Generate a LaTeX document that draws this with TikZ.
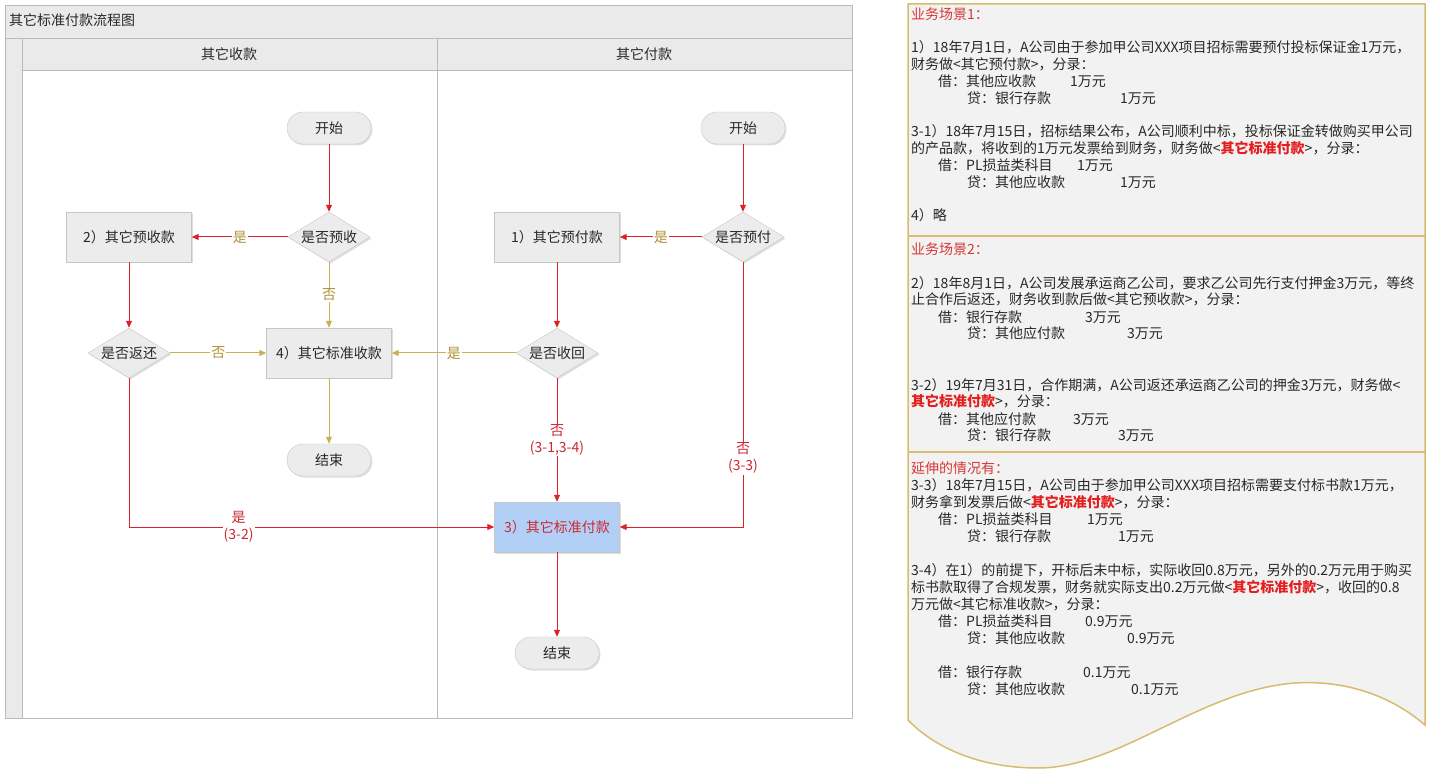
\documentclass[tikz,border=0pt]{standalone}
\usepackage{fontspec}
\setmainfont{Noto Sans CJK SC}
\usepackage{xcolor}
\usetikzlibrary{shapes,arrows.meta,positioning,calc,shadows}

\definecolor{frameline}{RGB}{178,190,190}
\definecolor{headfill}{RGB}{234,234,234}
\definecolor{boxfill}{RGB}{236,236,236}
\definecolor{boxline}{RGB}{198,198,198}
\definecolor{bluefill}{RGB}{178,208,245}
\definecolor{flowred}{RGB}{222,32,40}
\definecolor{flowgold}{RGB}{205,175,85}
\definecolor{labgold}{RGB}{175,145,55}
\definecolor{labred}{RGB}{205,40,50}
\definecolor{panelline}{RGB}{215,188,110}
\definecolor{panelfill}{RGB}{242,242,242}
\definecolor{headred}{RGB}{215,55,55}
\definecolor{hlred}{RGB}{228,30,30}
\definecolor{textgray}{RGB}{40,40,40}

\newcommand\jieline[3]{\hspace*{27pt}\makebox[#1][l]{借：#2}#3}
\newcommand\dailine[3]{\hspace*{56pt}\makebox[#1][l]{贷：#2}#3}
\newcommand\redbold[1]{\textcolor{hlred}{\bfseries #1}}

\begin{document}
\begin{tikzpicture}[x=1pt, y=-1pt, font=\fontsize{14}{17}\selectfont, text=textgray,
    frame/.style={draw=frameline, line width=0.8pt},
    shad/.style={drop shadow={opacity=0.25, shadow xshift=1.5pt, shadow yshift=-1.5pt}},
    box/.style={rectangle, draw=boxline, fill=boxfill, minimum width=125pt, minimum height=50pt, inner sep=2pt, shad},
    dec/.style={diamond, draw=boxline, fill=boxfill, aspect=1.64, minimum width=82pt, minimum height=50pt, inner sep=0pt, shad},
    term/.style={rectangle, rounded corners=16pt, draw=boxline, fill=boxfill, minimum width=84pt, minimum height=32pt, shad},
    redline/.style={draw=flowred, line width=1pt, -{Triangle[length=7pt,width=6pt]}},
    goldline/.style={draw=flowgold, line width=1pt, -{Triangle[length=7pt,width=6pt]}},
    ylab/.style={fill=white, text=labgold, inner sep=1pt},
    rlab/.style={fill=white, text=labred, inner sep=1pt, align=center},
    txt/.style={anchor=base west, align=left, inner sep=0pt}]
    \useasboundingbox (0,0) rectangle (1430,775);
    % swimlane frame
    \fill[headfill] (5,5) rectangle (852,38);
    \fill[headfill] (5,38) rectangle (22,718);
    \fill[headfill] (22,38) rectangle (852,70);
    \draw[frame] (5,5) rectangle (852,718);
    \draw[frame] (5,38) -- (852,38);
    \draw[frame] (22,38) -- (22,718);
    \draw[frame] (22,70) -- (852,70);
    \draw[frame] (437,38) -- (437,718);
    \node[anchor=west, inner sep=0pt] (title) at (9,20) {其它标准付款流程图};
    \node (lanel) at (229,54) {其它收款};
    \node (laner) at (644,54) {其它付款};
    % left lane
    \node[term] (startl) at (329,128) {开始};
    \node[dec] (qys) at (329,237) {是否预收};
    \node[box] (yus) at (129,237) {2）其它预收款};
    \node[dec] (qfh) at (129,353) {是否返还};
    \node[box] (bzs) at (329,353) {4）其它标准收款};
    \node[term] (endl) at (329,460) {结束};
    % right lane
    \node[term] (startr) at (743,128) {开始};
    \node[dec] (qyf) at (743,237) {是否预付};
    \node[box] (yuf) at (557,237) {1）其它预付款};
    \node[dec] (qsh) at (557,353) {是否收回};
    \node[box, fill=bluefill, text=labred] (bzf) at (557,527) {3）其它标准付款};
    \node[term] (endr) at (557,653) {结束};
    % connectors
    \draw[redline] (startl) -- (qys);
    \draw[redline] (qys) -- node[ylab] {是} (yus);
    \draw[goldline] (qys) -- node[ylab] {否} (bzs);
    \draw[redline] (yus) -- (qfh);
    \draw[goldline] (qfh) -- node[ylab] {否} (bzs);
    \draw[goldline] (bzs) -- (endl);
    \draw[redline] (startr) -- (qyf);
    \draw[redline] (qyf) -- node[ylab] {是} (yuf);
    \draw[redline] (yuf) -- (qsh);
    \draw[goldline] (qsh) -- node[ylab] {是} (bzs);
    \draw[redline] (qsh) -- node[rlab] {否\\(3-1,3-4)} (bzf);
    \draw[redline] (qyf) |- node[rlab, pos=0.37] {否\\(3-3)} (bzf);
    \draw[redline] (qfh) |- node[rlab, pos=0.65] {是\\(3-2)} (bzf);
    \draw[redline] (bzf) -- (endr);
    % note panel
    \filldraw[draw=panelline, fill=panelfill, line width=1.5pt]
        (908,4) -- (1425,4) -- (1425,725)
        .. controls (1390,695) and (1345,680) .. (1295,683)
        .. controls (1200,690) and (1120,768) .. (1038,768)
        .. controls (980,768) and (935,748) .. (908,720) -- cycle;
    \draw[panelline, line width=1.2pt] (908,236) -- (1425,236);
    \draw[panelline, line width=1.2pt] (908,452) -- (1425,452);
    % base anchor sits on the last line
    \node[txt, font=\fontsize{14}{16.8}\selectfont] (case1) at (911,221) {\textcolor{headred}{业务场景1：}\\[16.8pt]
        1）18年7月1日，A公司由于参加甲公司XXX项目招标需要预付投标保证金1万元，\\
        财务做<其它预付款>，分录：\\
        \jieline{132pt}{其他应收款}{1万元}\\
        \dailine{153pt}{银行存款}{1万元}\\[16.8pt]
        3-1）18年7月15日，招标结果公布，A公司顺利中标，投标保证金转做购买甲公司\\
        的产品款，将收到的1万元发票给到财务，财务做<\redbold{其它标准付款}>，分录：\\
        \jieline{139pt}{PL损益类科目}{1万元}\\
        \dailine{153pt}{其他应收款}{1万元}\\[16.8pt]
        4）略};
    \node[txt] (case2) at (911,441) {\textcolor{headred}{业务场景2：}\\[17pt]
        2）18年8月1日，A公司发展承运商乙公司，要求乙公司先行支付押金3万元，等终\\
        止合作后返还，财务收到款后做<其它预收款>，分录：\\
        \jieline{147pt}{银行存款}{3万元}\\
        \dailine{160pt}{其他应付款}{3万元}\\[34pt]
        3-2）19年7月31日，合作期满，A公司返还承运商乙公司的押金3万元，财务做<\\
        \redbold{其它标准付款}>，分录：\\
        \jieline{135pt}{其他应付款}{3万元}\\
        \dailine{151pt}{银行存款}{3万元}};
    \node[txt] (case3) at (911,694) {\textcolor{headred}{延伸的情况有：}\\
        3-3）18年7月15日，A公司由于参加甲公司XXX项目招标需要支付标书款1万元，\\
        财务拿到发票后做<\redbold{其它标准付款}>，分录：\\
        \jieline{149pt}{PL损益类科目}{1万元}\\
        \dailine{151pt}{银行存款}{1万元}\\[17pt]
        3-4）在1）的前提下，开标后未中标，实际收回0.8万元，另外的0.2万元用于购买\\
        标书款取得了合规发票，财务就实际支出0.2万元做<\redbold{其它标准付款}>，收回的0.8\\
        万元做<其它标准收款>，分录：\\
        \jieline{147pt}{PL损益类科目}{0.9万元}\\
        \dailine{160pt}{其他应收款}{0.9万元}\\[17pt]
        \jieline{145pt}{银行存款}{0.1万元}\\
        \dailine{164pt}{其他应收款}{0.1万元}};
\end{tikzpicture}
\end{document}
